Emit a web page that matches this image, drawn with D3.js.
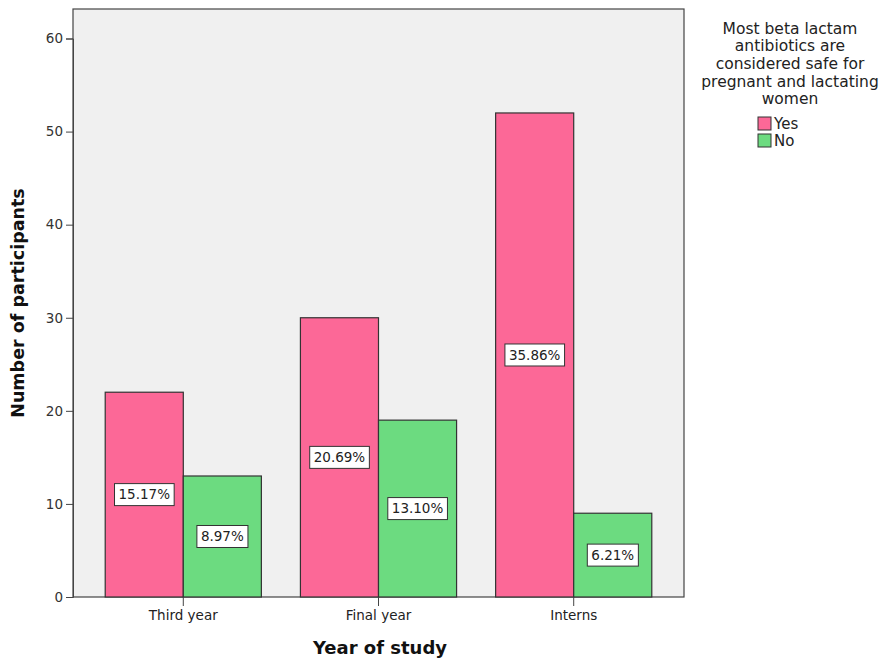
<!DOCTYPE html>
<html><head><meta charset="utf-8">
<script src="https://cdn.jsdelivr.net/npm/d3@7"></script>
<style>body{margin:0;background:#fff;}svg{display:block;}</style>
</head><body>
<svg id="c" width="889" height="661"></svg>
<script>
const categories = ["Third year", "Final year", "Interns"];
const seriesNames = ["Yes", "No"];
const yesValues = [22, 30, 52];
const noValues = [13, 19, 9];
const yesLabels = ["15.17%", "20.69%", "35.86%"];
const noLabels = ["8.97%", "13.10%", "6.21%"];
const yTicks = [0, 10, 20, 30, 40, 50, 60];
const legendTitle = ["Most beta lactam", "antibiotics are", "considered safe for", "pregnant and lactating", "women"];
const colors = {Yes: "#fc6897", No: "#6cdb80"};

const svg = d3.select("#c");
const L = 73, R = 684, T = 9, B = 597;
const font = "'DejaVu Sans', Verdana, sans-serif";

svg.append("rect").attr("x", L).attr("y", T).attr("width", R - L).attr("height", B - T)
  .attr("fill", "#f0f0f0").attr("stroke", "#444").attr("stroke-width", 1.2);

const x = d3.scaleBand().domain(categories).range([L, R]).paddingInner(0.2).paddingOuter(0.165);
const xs = d3.scaleBand().domain(seriesNames).range([0, x.bandwidth()]);
const y = d3.scaleLinear().domain([0, 60]).range([B, 38.5]);

const data = [];
categories.forEach((c, i) => {
  data.push({cat: c, s: "Yes", v: yesValues[i], lab: yesLabels[i]});
  data.push({cat: c, s: "No", v: noValues[i], lab: noLabels[i]});
});

const g = svg.append("g");
g.selectAll("rect.bar").data(data).enter().append("rect").attr("class", "bar")
  .attr("x", d => x(d.cat) + xs(d.s)).attr("width", xs.bandwidth())
  .attr("y", d => y(d.v)).attr("height", d => y(0) - y(d.v))
  .attr("fill", d => colors[d.s]).attr("stroke", "#333").attr("stroke-width", 1.2);

// labels
const lg = g.selectAll("g.lab").data(data).enter().append("g").attr("class", "lab")
  .attr("transform", d => `translate(${x(d.cat) + xs(d.s) + xs.bandwidth() / 2},${(y(d.v) + y(0)) / 2})`);
lg.append("text").text(d => d.lab).attr("text-anchor", "middle").attr("dy", "0.36em")
  .attr("font-family", font).attr("font-size", 13.5).attr("fill", "#222")
  .each(function () {
    const bb = this.getBBox();
    d3.select(this.parentNode).insert("rect", "text")
      .attr("x", bb.x - 4).attr("y", -11).attr("width", bb.width + 8).attr("height", 22)
      .attr("fill", "#fff").attr("stroke", "#333").attr("stroke-width", 1);
  });

// y axis
const ya = svg.append("g").attr("transform", `translate(${L},0)`)
  .call(d3.axisLeft(y).tickValues(yTicks).tickSize(7).tickPadding(3));
ya.select(".domain").attr("stroke", "#444");
ya.selectAll(".tick line").attr("stroke", "#444");
ya.selectAll("text").attr("font-family", font).attr("font-size", 13.5).attr("fill", "#333");

// x axis
const xa = svg.append("g").attr("transform", `translate(0,${B})`)
  .call(d3.axisBottom(x).tickSize(9).tickPadding(4));
xa.select(".domain").remove();
xa.selectAll(".tick line").attr("stroke", "#444");
xa.selectAll("text").attr("font-family", font).attr("font-size", 13.5).attr("fill", "#222");

// axis titles
svg.append("text").text("Year of study").attr("x", 380).attr("y", 654).attr("text-anchor", "middle")
  .attr("font-family", font).attr("font-weight", "bold").attr("font-size", 18).attr("fill", "#111");
svg.append("text").text("Number of participants").attr("transform", "translate(24,303) rotate(-90)")
  .attr("text-anchor", "middle")
  .attr("font-family", font).attr("font-weight", "bold").attr("font-size", 17.5).attr("fill", "#111");

// legend
const lt = svg.append("g");
legendTitle.forEach((t, i) => {
  lt.append("text").text(t).attr("x", 790).attr("y", 33.5 + i * 17.7).attr("text-anchor", "middle")
    .attr("font-family", font).attr("font-size", 15.5).attr("fill", "#222");
});
seriesNames.forEach((s, i) => {
  const yy = 117 + i * 17;
  svg.append("rect").attr("x", 758).attr("y", yy).attr("width", 13).attr("height", 13)
    .attr("fill", colors[s]).attr("stroke", "#333").attr("stroke-width", 1);
  svg.append("text").text(s).attr("x", 774).attr("y", yy + 11.5)
    .attr("font-family", font).attr("font-size", 15).attr("fill", "#222");
});
</script>
</body></html>
